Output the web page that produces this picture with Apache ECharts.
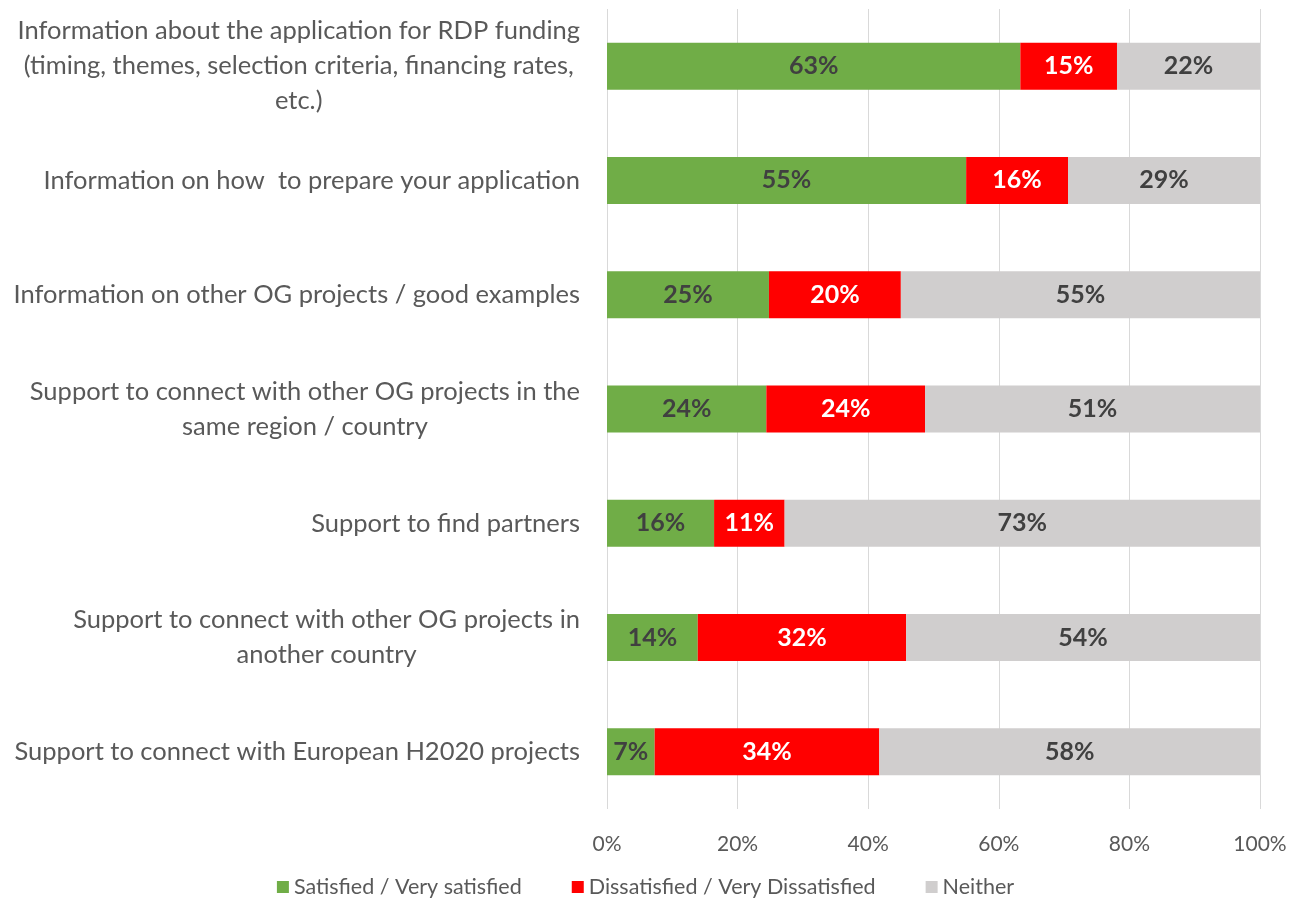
<!DOCTYPE html>
<html>
<head>
<meta charset="utf-8">
<title>OG support satisfaction</title>
<script src="https://cdn.jsdelivr.net/npm/echarts@6/dist/echarts.min.js"></script>
<style>
    html, body { margin: 0; padding: 0; background: #fff; }
    #chart { width: 1291px; height: 900px; }
</style>
</head>
<body>
<div id="chart"></div>
<script>
// categories, top to bottom as drawn
const categories = [
    'Information about the application for RDP funding\n(timing, themes, selection criteria, financing rates,\netc.)',
    'Information on how  to prepare your application',
    'Information on other OG projects / good examples',
    'Support to connect with other OG projects in the\nsame region / country',
    'Support to find partners',
    'Support to connect with other OG projects in\nanother country',
    'Support to connect with European H2020 projects'
];
const satisfied    = [63.3, 55.0, 24.8, 24.4, 16.4, 13.9, 7.3];
const dissatisfied = [14.8, 15.6, 20.2, 24.3, 10.8, 31.9, 34.4];
const neither      = [21.9, 29.4, 55.0, 51.3, 72.8, 54.2, 58.3];
const seriesNames = ['Satisfied / Very satisfied', 'Dissatisfied / Very Dissatisfied', 'Neither'];
const colors = ['#70AD47', '#FF0000', '#D0CECE'];
const tickLabels = ['0%', '20%', '40%', '60%', '80%', '100%'];

const FONT = 'Lato, "Open Sans", sans-serif';

const chart = echarts.init(document.getElementById('chart'));

const makeSeries = (name, data, idx) => ({
    name: name,
    type: 'bar',
    stack: 'total',
    barWidth: 47,
    itemStyle: { color: colors[idx] },
    label: {
        show: true,
        position: 'inside',
        fontFamily: FONT,
        fontWeight: 'bold',
        fontSize: 25,
        color: idx === 1 ? '#ffffff' : '#404040',
        formatter: p => Math.round(p.value) + '%'
    },
    emphasis: { disabled: true },
    data: data
});

const option = {
    animation: false,
    textStyle: { fontFamily: FONT },
    grid: { left: 607, right: 31, top: 9, bottom: 91 },
    legend: {
        bottom: -3,
        left: 'center',
        icon: 'rect',
        itemWidth: 12,
        itemHeight: 12,
        itemGap: 50,
        textStyle: { color: '#595959', fontSize: 21.5, fontFamily: FONT },
        data: seriesNames
    },
    xAxis: {
        type: 'value',
        min: 0,
        max: 100,
        interval: 20,
        axisLine: { show: false },
        axisTick: { show: false },
        axisLabel: {
            color: '#595959',
            fontSize: 21,
            margin: 25,
            formatter: v => tickLabels[v / 20]
        },
        splitLine: { lineStyle: { color: '#D9D9D9', width: 1 } }
    },
    yAxis: {
        type: 'category',
        inverse: true,
        data: categories,
        axisLine: { show: false },
        axisTick: { show: false },
        axisLabel: {
            margin: 27,
            color: '#595959',
            fontSize: 25.5,
            lineHeight: 35,
            align: 'right',
            formatter: v => v.split('\n').map(l => '{c|' + l + '}').join('\n'),
            rich: {
                c: { align: 'center', color: '#595959', fontSize: 25.5, lineHeight: 35, fontFamily: FONT }
            }
        }
    },
    series: [
        makeSeries(seriesNames[0], satisfied, 0),
        makeSeries(seriesNames[1], dissatisfied, 1),
        makeSeries(seriesNames[2], neither, 2)
    ]
};

chart.setOption(option);
</script>
</body>
</html>
